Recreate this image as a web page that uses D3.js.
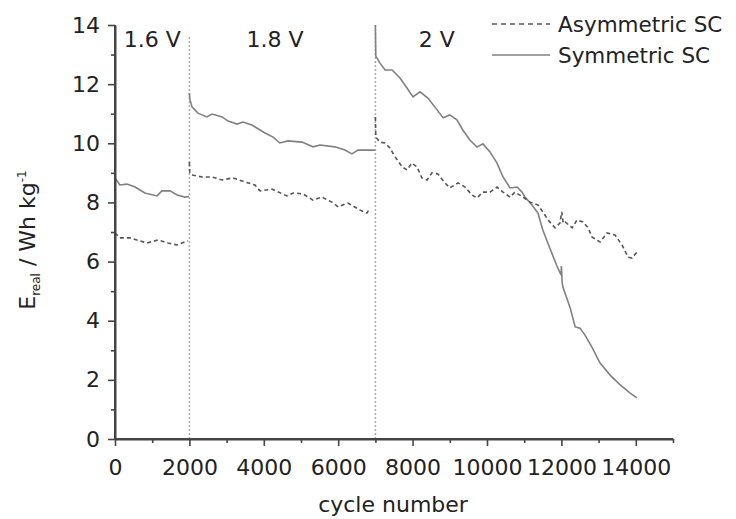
<!DOCTYPE html>
<html>
<head>
<meta charset="utf-8">
<script src="https://cdn.jsdelivr.net/npm/d3@7"></script>
<style>
  html, body { margin: 0; padding: 0; background: #fff; }
  svg { display: block; }
  text { font-family: "DejaVu Sans", sans-serif; fill: #222; }
</style>
</head>
<body>
<svg id="chart" width="736" height="519"></svg>
<script>
// ---- Data ----
const seriesNames = ["Asymmetric SC", "Symmetric SC"];
const voltageLabels = ["1.6 V", "1.8 V", "2 V"];
const voltageLabelCycles = [1000, 4300, 8650];
const voltageBoundaries = [2000, 7000];
const xTicks = [0, 2000, 4000, 6000, 8000, 10000, 12000, 14000];
const yTicks = [0, 2, 4, 6, 8, 10, 12, 14];

// Symmetric SC, per voltage segment [cycle, Wh/kg]
const sym16 = [[0,8.83],[130,8.59],[320,8.62],[540,8.52],[800,8.32],[1130,8.22],[1260,8.39],[1480,8.39],[1670,8.25],[1880,8.18],[1990,8.2]];
const sym18 = [[2000,11.7],[2010,11.5],[2070,11.23],[2230,11.02],[2470,10.89],[2610,10.99],[2880,10.89],[3040,10.75],[3280,10.65],[3440,10.72],[3680,10.62],[4030,10.35],[4250,10.21],[4430,10.01],[4650,10.08],[5030,10.04],[5320,9.88],[5510,9.94],[5910,9.88],[6180,9.77],[6370,9.64],[6530,9.77],[6990,9.77]];
const sym20 = [[7000,14.0],[7010,12.95],[7120,12.72],[7260,12.48],[7450,12.48],[7660,12.21],[7850,11.87],[8010,11.57],[8200,11.74],[8410,11.53],[8660,11.13],[8820,10.86],[9000,10.96],[9190,10.79],[9350,10.45],[9540,10.11],[9730,9.87],[9890,9.98],[10080,9.71],[10270,9.33],[10430,8.86],[10620,8.49],[10810,8.52],[10940,8.35],[11020,8.18],[11210,7.91],[11370,7.64],[11500,7.07],[11690,6.45],[11880,5.85],[11990,5.55],[12000,5.85],[12020,5.3],[12040,5.14],[12230,4.46],[12370,3.79],[12500,3.75],[12630,3.52],[12820,3.11],[13040,2.57],[13310,2.16],[13580,1.83],[13840,1.56],[14030,1.39]];

// Asymmetric SC, per voltage segment
const asym16 = [[0,6.97],[130,6.8],[400,6.8],[670,6.7],[860,6.63],[1160,6.73],[1420,6.63],[1670,6.56],[1800,6.63],[1960,6.7]];
const asym18 = [[2000,9.37],[2010,9.0],[2070,8.93],[2340,8.86],[2610,8.86],[2880,8.76],[3170,8.83],[3500,8.69],[3760,8.59],[3900,8.39],[4220,8.45],[4620,8.22],[4790,8.32],[5050,8.29],[5320,8.08],[5560,8.18],[5830,8.01],[6000,7.85],[6260,7.98],[6590,7.74],[6770,7.64],[6860,7.81]];
const asym20 = [[7000,10.89],[7010,10.21],[7120,10.04],[7260,10.01],[7390,9.84],[7530,9.54],[7720,9.20],[7850,9.10],[7980,9.33],[8120,9.20],[8250,8.83],[8390,8.76],[8520,9.00],[8680,8.96],[8870,8.66],[9000,8.49],[9220,8.66],[9410,8.52],[9600,8.25],[9730,8.15],[9890,8.35],[10080,8.35],[10270,8.52],[10430,8.35],[10620,8.18],[10750,8.35],[10970,8.18],[11160,8.01],[11370,7.91],[11500,7.68],[11640,7.41],[11830,7.14],[11960,7.30],[12010,7.68],[12050,7.3],[12100,7.34],[12290,7.14],[12420,7.41],[12580,7.34],[12720,7.14],[12820,6.83],[13040,6.66],[13230,6.97],[13440,6.90],[13630,6.56],[13790,6.15],[13900,6.12],[14030,6.32]];

// ---- Layout ----
const svg = d3.select("#chart");
const x = d3.scaleLinear().domain([0, 15000]).range([115, 673]);
const y = d3.scaleLinear().domain([0, 14]).range([439, 25]);
const axisColor = "#444";
const symColor = "#808080";
const asymColor = "#555";

// separators
svg.selectAll("line.sep").data(voltageBoundaries).enter().append("line")
  .attr("class", "sep")
  .attr("x1", d => x(d)).attr("x2", d => x(d))
  .attr("y1", y(0)).attr("y2", (d, i) => y(i === 0 ? 13.6 : 14))
  .attr("stroke", "#aaa").attr("stroke-width", 1.5).attr("stroke-dasharray", "2,2");

const line = d3.line().x(d => x(d[0])).y(d => y(d[1]));

[sym16, sym18, sym20].forEach(seg => {
  svg.append("path").datum(seg).attr("d", line)
    .attr("fill", "none").attr("stroke", symColor).attr("stroke-width", 1.6);
});
[asym16, asym18, asym20].forEach(seg => {
  svg.append("path").datum(seg).attr("d", line)
    .attr("fill", "none").attr("stroke", asymColor).attr("stroke-width", 1.6)
    .attr("stroke-dasharray", "4,3");
});

// axes
const minorX = d3.range(1000, 15001, 2000);
const minorY = d3.range(1, 14, 2);

const gxMinor = svg.append("g").attr("transform", `translate(0,${y(0)})`)
  .call(d3.axisBottom(x).tickValues(minorX).tickSize(4).tickSizeOuter(0).tickFormat(""));
const gx = svg.append("g").attr("transform", `translate(0,${y(0)})`)
  .call(d3.axisBottom(x).tickValues(xTicks).tickSize(7).tickSizeOuter(0).tickPadding(13).tickFormat(d3.format("d")));
const gyMinor = svg.append("g").attr("transform", `translate(${x(0)},0)`)
  .call(d3.axisLeft(y).tickValues(minorY).tickSize(4).tickSizeOuter(0).tickFormat(""));
const gy = svg.append("g").attr("transform", `translate(${x(0)},0)`)
  .call(d3.axisLeft(y).tickValues(yTicks).tickSize(7).tickSizeOuter(0).tickPadding(8).tickFormat(d3.format("d")));

[gx, gy, gxMinor, gyMinor].forEach(g => {
  g.select(".domain").attr("stroke", axisColor).attr("stroke-width", 2);
  g.selectAll(".tick line").attr("stroke", axisColor).attr("stroke-width", 1.6);
  g.selectAll(".tick text").attr("font-family", "DejaVu Sans, sans-serif")
    .attr("font-size", 22).attr("fill", "#222");
});
gx.select(".domain").attr("d", `M${x(0)},0H${x(15000)}`);
gy.select(".domain").attr("d", `M0,${y(0)}V${y(14)}`);

// voltage labels
svg.selectAll("text.volt").data(voltageLabels).enter().append("text")
  .attr("class", "volt")
  .attr("x", (d, i) => x(voltageLabelCycles[i])).attr("y", 47)
  .attr("text-anchor", "middle").attr("font-size", 22)
  .text(d => d);

// axis titles
svg.append("text").attr("x", 393).attr("y", 512).attr("text-anchor", "middle")
  .attr("font-size", 22).text("cycle number");

const yt = svg.append("text")
  .attr("transform", "translate(35,240) rotate(-90)")
  .attr("text-anchor", "middle").attr("font-size", 22);
yt.append("tspan").text("E");
yt.append("tspan").attr("font-size", 12).attr("dy", 5).text("real");
yt.append("tspan").attr("dy", -5).text(" / Wh kg");
yt.append("tspan").attr("font-size", 12).attr("dy", -9).text("-1");

// legend
const legend = svg.append("g");
const legendY = [24, 55];
seriesNames.forEach((name, i) => {
  legend.append("line")
    .attr("x1", 492).attr("x2", 550).attr("y1", legendY[i]).attr("y2", legendY[i])
    .attr("stroke", i === 0 ? asymColor : symColor).attr("stroke-width", 1.6)
    .attr("stroke-dasharray", i === 0 ? "5,4" : null);
  legend.append("text").attr("x", 558).attr("y", legendY[i] + 8)
    .attr("font-size", 21.5).text(name);
});
</script>
</body>
</html>
